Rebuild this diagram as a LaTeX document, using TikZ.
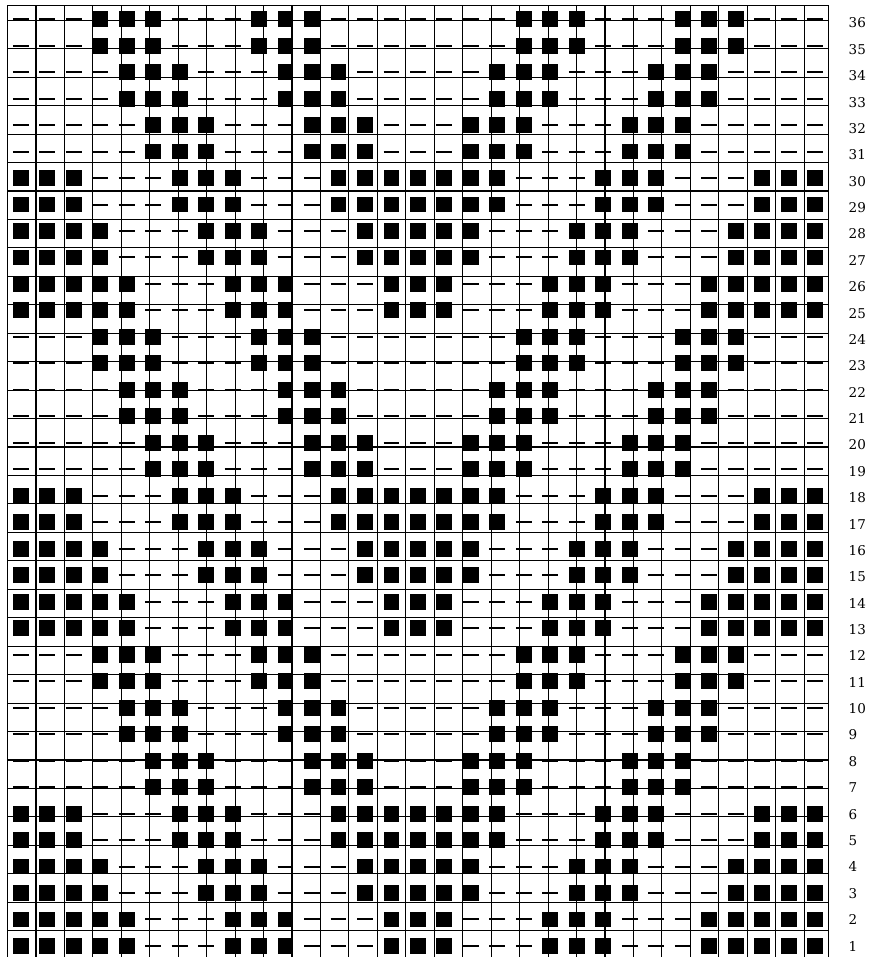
\documentclass[tikz,border=0pt]{standalone}
\usepackage{fontspec}
\newfontfamily\rowfont{DejaVu Serif}

% row patterns (bottom to top), 1 = black square, 0 = dash
\def\patA{1,1,1,1,1,0,0,0,1,1,1,0,0,0,1,1,1,0,0,0,1,1,1,0,0,0,1,1,1,1,1}
\def\patB{1,1,1,1,0,0,0,1,1,1,0,0,0,1,1,1,1,1,0,0,0,1,1,1,0,0,0,1,1,1,1}
\def\patC{1,1,1,0,0,0,1,1,1,0,0,0,1,1,1,1,1,1,1,0,0,0,1,1,1,0,0,0,1,1,1}
\def\patD{0,0,0,0,0,1,1,1,0,0,0,1,1,1,0,0,0,1,1,1,0,0,0,1,1,1,0,0,0,0,0}
\def\patE{0,0,0,0,1,1,1,0,0,0,1,1,1,0,0,0,0,0,1,1,1,0,0,0,1,1,1,0,0,0,0}
\def\patF{0,0,0,1,1,1,0,0,0,1,1,1,0,0,0,0,0,0,0,1,1,1,0,0,0,1,1,1,0,0,0}

\begin{document}
\begin{tikzpicture}[x=1pt, y=1pt,
  knit/.style={fill=black},
  purl/.style={line width=2pt},
  gridline/.style={line width=1.1pt},
  rowlabel/.style={anchor=west, inner sep=0pt, font=\rowfont\fontsize{13.5}{14}\selectfont}]
  \useasboundingbox (0,0) rectangle (874,957);

  % Chart cells
  \begin{scope}[shift={(7.5,-2.2)}, x=26.48pt, y=26.48pt]
    \foreach \r in {1,...,36} {
      \pgfmathtruncatemacro\k{floor(mod(\r-1,12)/2)}
      \ifcase\k \let\rowpat\patA \or \let\rowpat\patB \or \let\rowpat\patC
      \or \let\rowpat\patD \or \let\rowpat\patE \or \let\rowpat\patF \fi
      \foreach \c [count=\i from 0] in \rowpat {
        \ifnum\c=1
          \fill[knit] (\i+0.2,\r-0.8) rectangle (\i+0.8,\r-0.2);
        \else
          \draw[purl] (\i+0.2,\r-0.5) -- (\i+0.8,\r-0.5);
        \fi
      }
    }
    \draw[gridline] (0,0) grid (31,36);
    \draw[gridline] (0,0) rectangle (31,36);
  \end{scope}

  % Row numbers
  \foreach \r in {1,...,36} {
    \pgfmathsetmacro\ly{11+26.37*(\r-1)}
    \node[rowlabel] (row\r) at (848.5,\ly) {\r};
  }
\end{tikzpicture}
\end{document}
